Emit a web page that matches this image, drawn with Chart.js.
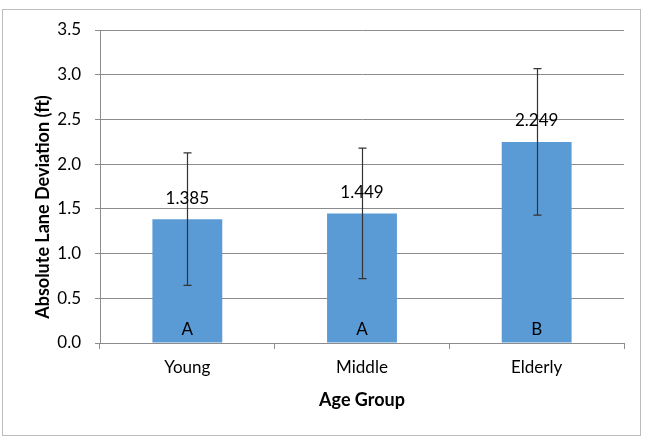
<!DOCTYPE html>
<html>
<head>
<meta charset="utf-8">
<script src="https://cdn.jsdelivr.net/npm/chart.js@4"></script>
<style>
  body { margin: 0; background: #fff; }
  canvas { display: block; }
</style>
</head>
<body>
<canvas id="chart" width="648" height="446"></canvas>
<script>
const ageGroups = ['Young', 'Middle', 'Elderly'];
const meanDeviation = [1.385, 1.449, 2.249];
const errorAmount = [0.74, 0.73, 0.82];
const groupLetters = ['A', 'A', 'B'];

const FONT = 'Lato, "Open Sans", sans-serif';

// draws the frame, error bars, value labels, letters and axis titles
const extras = {
  id: 'extras',
  afterDatasetsDraw(chart) {
    const ctx = chart.ctx;
    const y = chart.scales.y;
    const meta = chart.getDatasetMeta(0);

    ctx.save();
    ctx.strokeStyle = '#333';
    ctx.lineWidth = 1.2;
    meta.data.forEach((bar, i) => {
      const top = y.getPixelForValue(meanDeviation[i] + errorAmount[i]);
      const bot = y.getPixelForValue(meanDeviation[i] - errorAmount[i]);
      const x = Math.round(bar.x) + 0.5;
      ctx.beginPath();
      ctx.moveTo(x, top); ctx.lineTo(x, bot);
      ctx.moveTo(x - 4, top); ctx.lineTo(x + 4, top);
      ctx.moveTo(x - 4, bot); ctx.lineTo(x + 4, bot);
      ctx.stroke();
    });

    ctx.fillStyle = '#000';
    ctx.textAlign = 'center';
    ctx.textBaseline = 'middle';
    ctx.font = '17px ' + FONT;
    meta.data.forEach((bar, i) => {
      ctx.fillText(meanDeviation[i].toFixed(3), bar.x, bar.y - 21);
      ctx.fillText(groupLetters[i], bar.x, y.getPixelForValue(0) - 13);
    });
    ctx.restore();
  },
  afterDraw(chart) {
    const ctx = chart.ctx;
    ctx.save();
    ctx.strokeStyle = '#bcbcbc';
    ctx.lineWidth = 1;
    ctx.strokeRect(2.5, 9.5, 638, 426);

    ctx.fillStyle = '#000';
    ctx.textAlign = 'center';
    ctx.textBaseline = 'middle';
    ctx.font = 'bold 18px ' + FONT;
    const area = chart.chartArea;
    ctx.fillText('Age Group', (area.left + area.right) / 2, 400);
    ctx.translate(43, 207);
    ctx.rotate(-Math.PI / 2);
    ctx.fillText('Absolute Lane Deviation (ft)', 0, 0);
    ctx.restore();
  }
};

new Chart(document.getElementById('chart'), {
  type: 'bar',
  data: {
    labels: ageGroups,
    datasets: [{
      data: meanDeviation,
      backgroundColor: '#5b9bd5',
      borderWidth: 0,
      categoryPercentage: 1,
      barPercentage: 0.4
    }]
  },
  options: {
    responsive: false,
    animation: false,
    layout: { padding: { left: 0, top: 30, right: 24, bottom: 0 } },
    plugins: { legend: { display: false }, tooltip: { enabled: false } },
    scales: {
      x: {
        offset: true,
        afterFit: s => { s.height = 103; },
        grid: { drawOnChartArea: false, drawTicks: true, tickLength: 6, color: '#8c8c8c', offset: true },
        border: { color: '#8c8c8c' },
        ticks: { color: '#000', font: { family: FONT, size: 17 }, padding: 8 }
      },
      y: {
        min: 0,
        max: 3.5,
        afterFit: s => { s.width = 100; },
        grid: { color: '#8c8c8c', tickLength: 5 },
        border: { color: '#8c8c8c' },
        ticks: {
          stepSize: 0.5,
          color: '#000',
          padding: 14,
          font: { family: FONT, size: 17 },
          callback: v => v.toFixed(1)
        }
      }
    }
  },
  plugins: [extras]
});
</script>
</body>
</html>
